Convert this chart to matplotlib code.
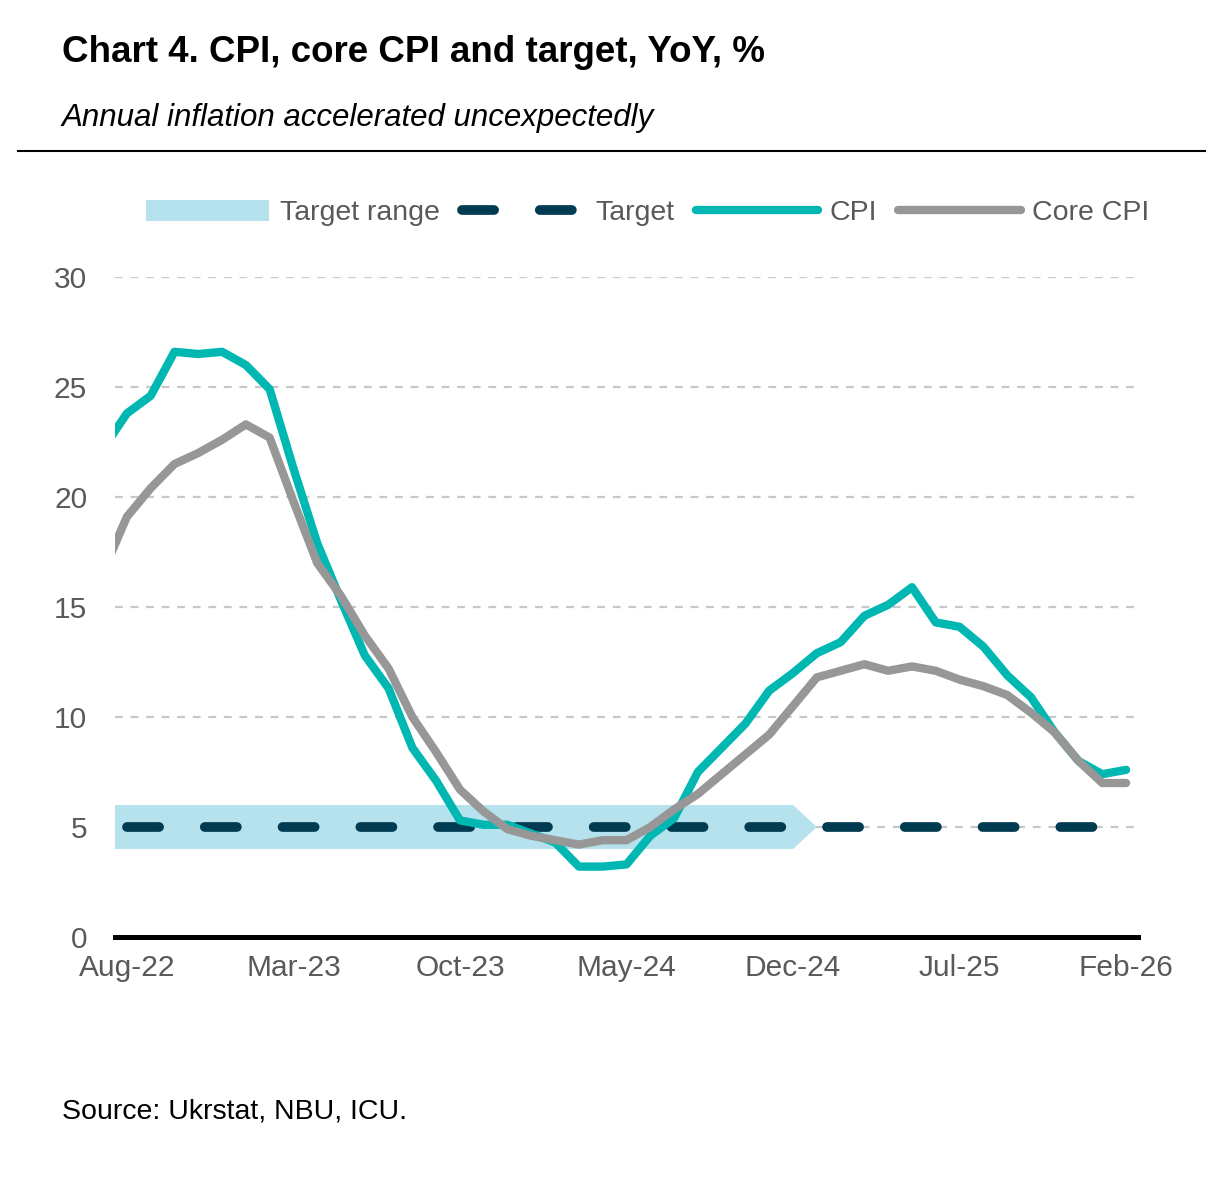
import numpy as np
import pandas as pd
import matplotlib
matplotlib.use("Agg")
from matplotlib import pyplot as plt
from matplotlib.lines import Line2D
from matplotlib.patches import Patch

plt.rcParams['font.family'] = ['Liberation Sans Narrow', 'Liberation Sans', 'DejaVu Sans']

# monthly data, Jul-22 .. Feb-26 (Jul-22 sits just left of the visible range)
months = pd.date_range("2022-07-01", "2026-02-01", freq="MS")
cpi = [22.2, 23.8, 24.6, 26.6, 26.5, 26.6,
       26.0, 24.9, 21.3, 17.9, 15.3, 12.8, 11.3, 8.6, 7.1, 5.3, 5.1, 5.1,
       4.7, 4.3, 3.2, 3.2, 3.3, 4.6, 5.4, 7.5, 8.6, 9.7, 11.2, 12.0,
       12.9, 13.4, 14.6, 15.1, 15.9, 14.3, 14.1, 13.2, 11.9, 10.9, 9.3, 8.0,
       7.4, 7.6]
core_cpi = [16.6, 19.1, 20.4, 21.5, 22.0, 22.6,
            23.3, 22.7, 19.8, 17.0, 15.5, 13.7, 12.2, 10.0, 8.4, 6.7, 5.7, 4.9,
            4.6, 4.4, 4.2, 4.4, 4.4, 5.0, 5.8, 6.5, 7.4, 8.3, 9.2, 10.5,
            11.8, 12.1, 12.4, 12.1, 12.3, 12.1, 11.7, 11.4, 11.0, 10.2, 9.3, 8.0,
            7.0, 7.0]
target = 5.0
target_lo, target_hi = 4.0, 6.0
target_start = "2022-08"      # dashed target line starts here
band_end = "2024-12"          # target range band ends here (arrow tip next month)
tick_every = 7

C_CPI = "#00b8b1"
C_CORE = "#979797"
C_TARGET = "#003b52"
C_BAND = "#b5e2ed"
C_TEXT = "#595959"

x = np.arange(len(months)) - 1     # Aug-22 -> 0
month_pos = dict(zip(months.strftime("%Y-%m"), x))

fig = plt.figure(figsize=(12.29, 11.77), dpi=100)
ax = fig.add_axes([115 / 1229, 1 - 937 / 1177, (1138 - 115) / 1229, (937 - 277) / 1177])

# target range band with arrow tip
b_end = month_pos[band_end]
bx = [x[0], b_end, b_end + 1, b_end, x[0]]
by = [target_hi, target_hi, target, target_lo, target_lo]
ax.fill(bx, by, color=C_BAND, lw=0, zorder=2)

t_mask = x >= month_pos[target_start]
ax.plot(x[t_mask], np.full(t_mask.sum(), target), color=C_TARGET, lw=7,
        dashes=(3.3, 4.7), dash_capstyle="round", zorder=3)
ax.plot(x, cpi, color=C_CPI, lw=6, solid_capstyle="round", zorder=4)
ax.plot(x, core_cpi, color=C_CORE, lw=6, solid_capstyle="round", zorder=5)

ax.set_xlim(-0.5, x[-1] + 0.5)
ax.set_ylim(0, 30)
ax.set_yticks(np.arange(0, 31, 5))
ticks = x[(x >= 0) & (x % tick_every == 0)]
ax.set_xticks(ticks)
ax.set_xticklabels([months[i + 1].strftime("%b-%y") for i in ticks])

ax.yaxis.grid(True, color="#c8c8c8", lw=1.6, linestyle=(0, (3.5, 3.5)), zorder=0)
ax.set_axisbelow(True)
for s in ["top", "right", "left"]:
    ax.spines[s].set_visible(False)
ax.spines["bottom"].set_linewidth(3.6)
ax.spines["bottom"].set_color("black")
ax.spines["bottom"].set_zorder(6)
ax.tick_params(axis="both", length=0, labelsize=21.5, labelcolor=C_TEXT)
ax.tick_params(axis="y", pad=20)
ax.tick_params(axis="x", pad=12)

handles = [
    Patch(color=C_BAND, lw=0),
    Line2D([], [], color=C_TARGET, lw=7, dashes=(3.3, 4.7), dash_capstyle="round"),
    Line2D([], [], color=C_CPI, lw=6, solid_capstyle="round"),
    Line2D([], [], color=C_CORE, lw=6, solid_capstyle="round"),
]
labels = ["Target range", "Target", "CPI", "Core CPI"]
leg = fig.legend(handles, labels, loc="center", bbox_to_anchor=(648 / 1229, 1 - 213 / 1177),
                 ncol=4, frameon=False, fontsize=20.5, handlelength=4.3, handleheight=0.8,
                 handletextpad=0.4, columnspacing=0.75)
for t in leg.get_texts():
    t.set_color(C_TEXT)

fig.text(62 / 1229, 1 - 53 / 1177, "Chart 4. CPI, core CPI and target, YoY, %",
         fontsize=26.5, fontweight="bold", va="center", ha="left")
fig.text(62 / 1229, 1 - 118 / 1177, "Annual inflation accelerated uncexpectedly",
         fontsize=22.5, style="italic", va="center", ha="left")
fig.add_artist(Line2D([18 / 1229, 1205 / 1229], [1 - 151 / 1177] * 2, color="black", lw=1.5))
fig.text(62 / 1229, 1 - 1112 / 1177, "Source: Ukrstat, NBU, ICU.",
         fontsize=20.5, va="center", ha="left")

fig.savefig("out.png", dpi=100, facecolor="white")
